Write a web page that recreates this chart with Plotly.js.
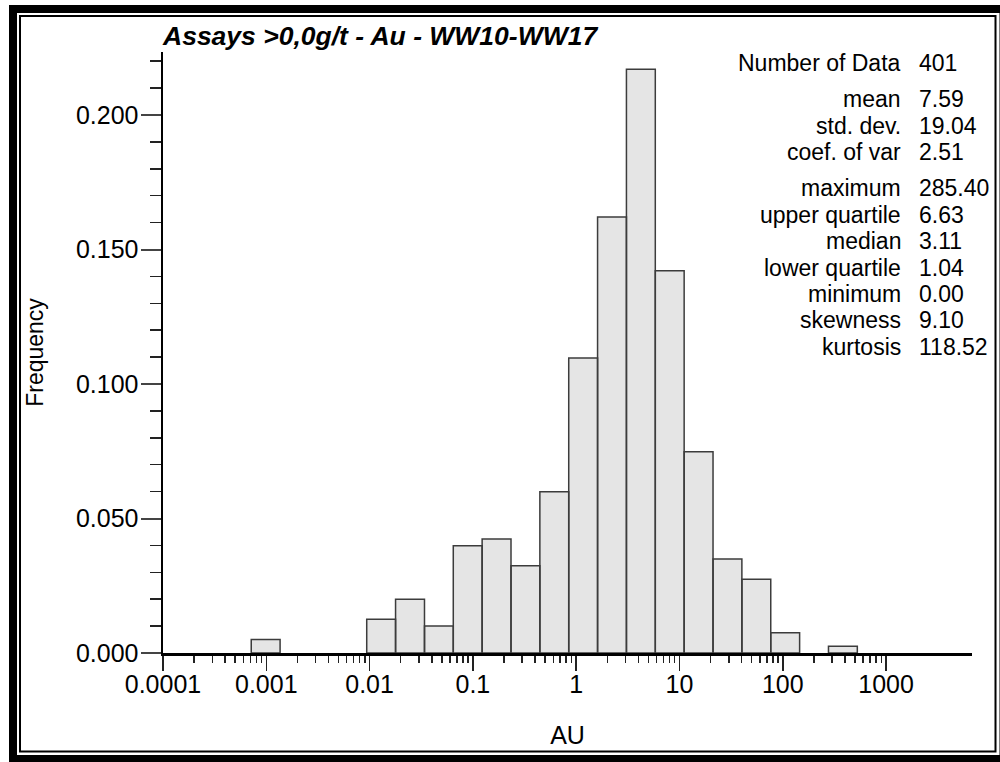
<!DOCTYPE html>
<html>
<head>
<meta charset="utf-8">
<script src="https://cdn.plot.ly/plotly-3.0.1.min.js"></script>
<style>
  html, body { margin: 0; padding: 0; background: #ffffff; }
  #chart { width: 1000px; height: 762px; }
</style>
</head>
<body>
<div id="chart"></div>
<script>
// ---- data ----
const binLo = [0.000715, 0.00938, 0.01784, 0.0340, 0.0646, 0.1229, 0.2339, 0.4451, 0.847, 1.611, 3.066, 5.834, 11.10, 21.13, 40.2, 76.5, 277];
const binHi = [0.00136, 0.01784, 0.0340, 0.0646, 0.1229, 0.2339, 0.4451, 0.847, 1.611, 3.066, 5.834, 11.10, 21.13, 40.2, 76.5, 145.6, 527];
const freq  = [0.0050, 0.0125, 0.0200, 0.0100, 0.0399, 0.0424, 0.0324, 0.0599, 0.1097, 0.1621, 0.2170, 0.1421, 0.0748, 0.0349, 0.0274, 0.0075, 0.0025];

const xTickVals = [0.0001, 0.001, 0.01, 0.1, 1, 10, 100, 1000];
const xTickText = ["0.0001", "0.001", "0.01", "0.1", "1", "10", "100", "1000"];

const statLabels = ["Number of Data", "mean", "std. dev.", "coef. of var", "maximum", "upper quartile", "median", "lower quartile", "minimum", "skewness", "kurtosis"];
const statValues = ["401", "7.59", "19.04", "2.51", "285.40", "6.63", "3.11", "1.04", "0.00", "9.10", "118.52"];
const statGroup  = [0, 1, 1, 1, 2, 2, 2, 2, 2, 2, 2];

const titleText = "Assays >0,0g/t - Au - WW10-WW17";

// ---- build histogram polygons ----
const px = [], py = [];
for (let i = 0; i < freq.length; i++) {
  px.push(binLo[i], binLo[i], binHi[i], binHi[i], binLo[i], null);
  py.push(0, freq[i], freq[i], 0, 0, null);
}

// ---- layout geometry ----
const W = 1000, H = 762;
const L = 163, T = 52, R = 28, B = 109;
const pw = W - L - R, ph = H - T - B;
const toPX = x => (x - L) / pw;
const toPY = y => (H - B - y) / ph;

const FONT = "Liberation Sans, Arial, sans-serif";

// minor ticks for log axis (2..9 in each decade up to 1000)
const minorX = [];
for (let d = -4; d <= 2; d++) {
  for (let m = 2; m <= 9; m++) minorX.push(m * Math.pow(10, d));
}

const annotations = [];
for (let i = 0; i < statLabels.length; i++) {
  const yc = 62.7 + i * 26.4 + statGroup[i] * 10;
  annotations.push({
    xref: "paper", yref: "paper", x: toPX(903), y: toPY(yc),
    xanchor: "right", yanchor: "middle", showarrow: false,
    text: statLabels[i], font: {family: FONT, size: 23, color: "#000"}
  });
  annotations.push({
    xref: "paper", yref: "paper", x: toPX(917), y: toPY(yc),
    xanchor: "left", yanchor: "middle", showarrow: false,
    text: statValues[i], font: {family: FONT, size: 23, color: "#000"}
  });
}

const shapes = [
  // thick outer frame
  {type: "rect", xref: "paper", yref: "paper",
   x0: toPX(13), x1: toPX(1003.5), y0: toPY(759), y1: toPY(9),
   line: {color: "#000", width: 8}, fillcolor: "rgba(0,0,0,0)", layer: "above"},
  // thin inner frame
  {type: "rect", xref: "paper", yref: "paper",
   x0: toPX(20), x1: toPX(995.5), y0: toPY(751.5), y1: toPY(16),
   line: {color: "#000", width: 2}, fillcolor: "rgba(0,0,0,0)", layer: "above"}
];

const trace = {
  type: "scatter", mode: "lines",
  x: px, y: py,
  fill: "toself", fillcolor: "#e5e5e5",
  line: {color: "#3c3c3c", width: 1.5},
  hoverinfo: "skip", showlegend: false, connectgaps: false
};

const layout = {
  width: W, height: H,
  margin: {l: L, r: R, t: T, b: B, pad: 0},
  paper_bgcolor: "#ffffff", plot_bgcolor: "#ffffff",
  showlegend: false,
  font: {family: FONT, color: "#000"},
  title: {
    text: titleText,
    font: {family: FONT, size: 26.5, color: "#000", weight: "bold", style: "italic"},
    xref: "paper", x: 0, xanchor: "left",
    yref: "container", y: 1 - 36 / H, yanchor: "middle"
  },
  xaxis: {
    type: "log", range: [-4, 3.832], autorange: false,
    showgrid: false, zeroline: false,
    showline: true, linecolor: "#000", linewidth: 2.5,
    ticks: "outside", ticklen: 15, tickwidth: 1.5, tickcolor: "#222",
    tickmode: "array", tickvals: xTickVals, ticktext: xTickText,
    tickfont: {family: FONT, size: 25, color: "#000"},
    ticklabelstandoff: -8,
    minor: {tickmode: "array", tickvals: minorX, ticks: "outside", ticklen: 7, tickwidth: 1.5, tickcolor: "#222", showgrid: false},
    title: {text: "AU", font: {family: FONT, size: 25, color: "#000"}, standoff: 30},
    automargin: false, fixedrange: true
  },
  yaxis: {
    range: [0, 0.22342], autorange: false,
    showgrid: false, zeroline: false,
    showline: true, linecolor: "#000", linewidth: 2.5,
    ticks: "outside", ticklen: 20, tickwidth: 2, tickcolor: "#444",
    tickmode: "linear", tick0: 0, dtick: 0.05, tickformat: ".3f",
    tickfont: {family: FONT, size: 25, color: "#000"},
    ticklabelstandoff: -3,
    minor: {dtick: 0.01, tick0: 0, ticks: "outside", ticklen: 11, tickwidth: 1.5, tickcolor: "#222", showgrid: false},
    title: {text: "Frequency", font: {family: FONT, size: 23, color: "#000"}, standoff: 26},
    automargin: false, fixedrange: true
  },
  annotations: annotations,
  shapes: shapes
};

Plotly.newPlot("chart", [trace], layout, {displayModeBar: false, staticPlot: true});
</script>
</body>
</html>
